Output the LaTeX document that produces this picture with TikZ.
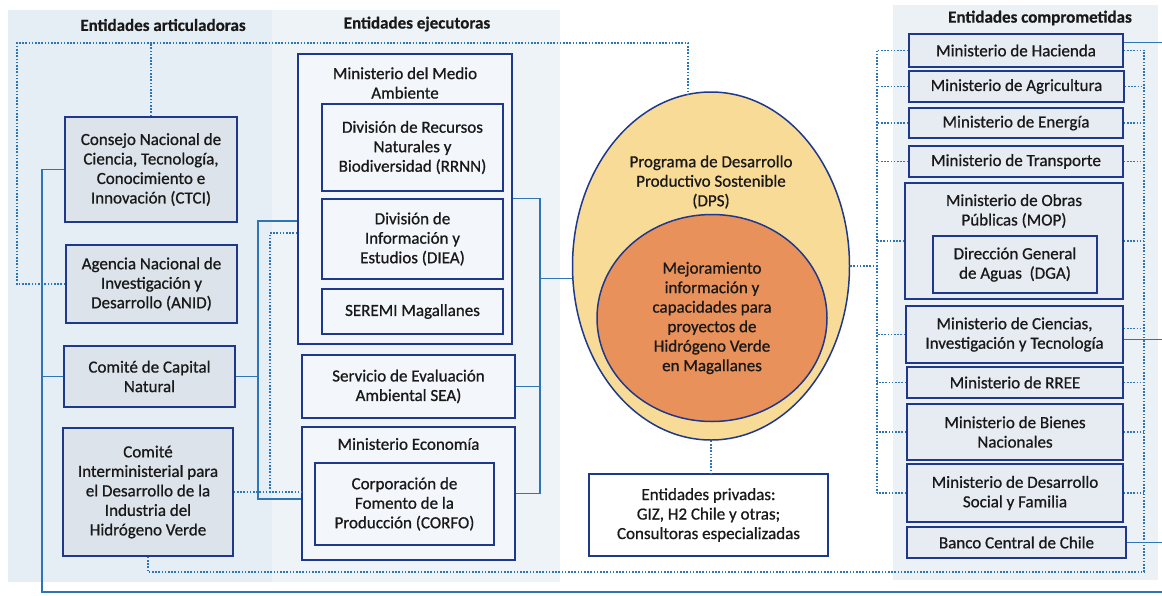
\documentclass[tikz,border=0pt]{standalone}
\usepackage{fontspec}
\setmainfont{Carlito}[FakeBold=0.8]
\newfontfamily\headfont{Carlito}[FakeBold=0.4]
\usetikzlibrary{shapes.geometric}
\definecolor{navy}{RGB}{30,56,140}
\definecolor{linkblue}{RGB}{46,117,182}
\definecolor{leftfill}{RGB}{221,227,235}
\definecolor{midfill}{RGB}{243,246,250}
\definecolor{rightfill}{RGB}{231,236,243}
\definecolor{panelleft}{RGB}{229,237,245}
\definecolor{panelmid}{RGB}{238,243,248}
\definecolor{panelright}{RGB}{236,241,246}
\definecolor{dpsfill}{RGB}{249,219,152}
\definecolor{mejorafill}{RGB}{233,145,90}

\begin{document}
\begin{tikzpicture}[x=1pt,y=-1pt,font=\fontsize{17}{19.5}\selectfont,
   box/.style={draw=navy,line width=1.6pt,align=center,inner sep=2pt,text=black!90},
   lbox/.style={box,fill=leftfill},
   mbox/.style={box,fill=midfill},
   rbox/.style={box,fill=rightfill},
   head/.style={font=\fontsize{17}{19.5}\headfont\bfseries,text=black!90},
   txt/.style={align=center,text=black!90},
   link/.style={draw=linkblue,line width=1.1pt},
   dotlink/.style={draw=linkblue,line width=1.2pt,dash pattern=on 1.6pt off 1.6pt}]
% Background panels
   \useasboundingbox (0,0) rectangle (1162,595);
   \fill [white] (0,0) rectangle (1162,595);
   \fill [panelleft]  (8,10) rectangle (272,582);
   \fill [panelmid]   (272,10) rectangle (560,582);
   \fill [panelright] (893,5) rectangle (1158,580);
% Column titles
   \node [head] (hart) at (163,25) {Entidades articuladoras};
   \node [head] (heje) at (417,24) {Entidades ejecutoras};
   \node [head] (hcom) at (1040,18) {Entidades comprometidas};
% Entidades articuladoras
   \node [lbox,minimum width=172pt,minimum height=105pt] (ctci) at (151,169.5)
        {Consejo Nacional de\\Ciencia, Tecnología,\\Conocimiento e\\Innovación (CTCI)};
   \node [lbox,minimum width=171pt,minimum height=78pt] (anid) at (151.5,284)
        {Agencia Nacional de\\Investigación y\\Desarrollo (ANID)};
   \node [lbox,minimum width=171pt,minimum height=61pt] (capnat) at (149.5,376.5)
        {Comité de Capital\\Natural};
   \node [lbox,minimum width=170pt,minimum height=128pt] (cihv) at (148,492)
        {Comité\\Interministerial para\\el Desarrollo de la\\Industria del\\Hidrógeno Verde};
% Entidades ejecutoras
   \node [mbox,minimum width=214pt,minimum height=290pt] (mma) at (405,199) {};
   \node [txt] (mmatitle) at (405,83) {Ministerio del Medio\\Ambiente};
   \node [mbox,minimum width=181pt,minimum height=87pt] (rrnn) at (412.5,147.5)
        {División de Recursos\\Naturales y\\Biodiversidad (RRNN)};
   \node [mbox,minimum width=181pt,minimum height=80pt] (diea) at (412.5,239)
        {División de\\Información y\\Estudios (DIEA)};
   \node [mbox,minimum width=181pt,minimum height=45pt] (seremi) at (412.5,311.5)
        {SEREMI Magallanes};
   \node [mbox,minimum width=213pt,minimum height=63pt] (sea) at (408.5,386.5)
        {Servicio de Evaluación\\Ambiental SEA)};
   \node [mbox,minimum width=213pt,minimum height=133pt] (mineco) at (408.5,493.5) {};
   \node [txt] (minecotitle) at (408.5,444) {Ministerio Economía};
   \node [mbox,minimum width=179pt,minimum height=82pt] (corfo) at (404.5,504)
        {Corporación de\\Fomento de la\\Producción (CORFO)};
% Programa
   \node [ellipse,draw=navy,line width=1.5pt,fill=dpsfill,inner sep=0pt,
        minimum width=277pt,minimum height=348pt] (dps) at (711,266) {};
   \node [txt] (dpstitle) at (711,182) {Programa de Desarrollo\\Productivo Sostenible\\(DPS)};
   \node [ellipse,draw=navy,line width=1.5pt,fill=mejorafill,inner sep=0pt,align=center,
        text=black!90,minimum width=230pt,minimum height=207pt] (mejora) at (712,318)
        {Mejoramiento\\información y\\capacidades para\\proyectos de\\Hidrógeno Verde\\en Magallanes};
   \node [box,fill=white,minimum width=239pt,minimum height=82pt] (privadas) at (708.5,515)
        {Entidades privadas:\\GIZ, H2 Chile y otras;\\Consultoras especializadas};
% Entidades comprometidas
   \node [rbox,minimum width=214pt,minimum height=33pt] (hacienda) at (1016,50.5) {Ministerio de Hacienda};
   \node [rbox,minimum width=215pt,minimum height=31pt] (agricultura) at (1016.5,86.5) {Ministerio de Agricultura};
   \node [rbox,minimum width=214pt,minimum height=30pt] (energia) at (1016,123) {Ministerio de Energía};
   \node [rbox,minimum width=214pt,minimum height=31pt] (transporte) at (1016,161.5) {Ministerio de Transporte};
   \node [rbox,minimum width=218pt,minimum height=116pt] (mop) at (1014,241) {};
   \node [txt] (moptitle) at (1014,211) {Ministerio de Obras\\Públicas (MOP)};
   \node [rbox,minimum width=164pt,minimum height=57pt] (dga) at (1015,264.5)
        {Dirección General\\de Aguas\ \ (DGA)};
   \node [rbox,minimum width=217pt,minimum height=57pt] (ciencias) at (1014.5,334.5)
        {Ministerio de Ciencias,\\Investigación y Tecnología};
   \node [rbox,minimum width=216pt,minimum height=31pt] (rree) at (1015,382.5) {Ministerio de RREE};
   \node [rbox,minimum width=216pt,minimum height=56pt] (bienes) at (1015,432)
        {Ministerio de Bienes\\Nacionales};
   \node [rbox,minimum width=216pt,minimum height=58pt] (desarrollo) at (1015,493)
        {Ministerio de Desarrollo\\Social y Familia};
   \node [rbox,minimum width=219pt,minimum height=31pt] (banco) at (1016.5,542.5) {Banco Central de Chile};
% Trunk points
   \coordinate (sw) at (42,592);
   \coordinate (se) at (1162,592);
   \coordinate (mlt) at (258,221);
   \coordinate (mlb) at (258,499);
   \coordinate (mdt) at (270,233);
   \coordinate (mr) at (540,0);
   \coordinate (tl) at (17,43);
   \coordinate (tr) at (688,43);
   \coordinate (rdt) at (1144,50);
   \coordinate (rdb) at (1144,572);
   \coordinate (ldt) at (877,50);
   \coordinate (re) at (1162,0);
% Solid links
   \draw [link] (ctci.west) -| (sw) -- (se);
   \draw [link] (capnat.west) -- (capnat.west -| sw);
   \draw [link] (mlt -| mma.west) -- (mlt) -- (mlb) -- (mlb -| mineco.west);
   \draw [link] (capnat.east) -- (capnat.east -| mlt);
   \draw [link] (mma.east |- diea.north) -- (diea.north -| mr) -- (mineco.east -| mr) -- (mineco.east);
   \draw [link] (sea.east) -- (sea.east -| mr);
   \draw [link] (dps.185) -- (dps.185 -| mr);
   \draw [link] ([yshift=8pt]hacienda.east) -- ([yshift=8pt]hacienda.east -| re);
   \draw [link] ([yshift=-5pt]ciencias.east) -- ([yshift=-5pt]ciencias.east -| re);
   \draw [link] (banco.east) -- (banco.east -| re);
% Dotted links
   \draw [dotlink] (anid.west) -| (tl) -- (tr) -- ([yshift=-3pt]tr |- dps.north);
   \draw [dotlink] (ctci.north) -- (ctci.north |- tl);
   \draw [dotlink] (mdt -| mma.west) -- (mdt) -- (mdt |- cihv.east);
   \draw [dotlink] (cihv.east) -- (cihv.east -| mineco.west);
   \draw [dotlink] (dps.south) -- (dps.south |- privadas.north);
   \draw [dotlink] (cihv.south) |- (rdb) -- (rdt);
   \draw [dotlink] (ldt |- hacienda.west) -- (ldt |- desarrollo.west);
   \draw [dotlink] (dps.east) -- (dps.east -| ldt);
   \foreach \n in {hacienda,agricultura,energia,transporte,mop,ciencias,rree,bienes,desarrollo}
        \draw [dotlink] (\n.west) -- (\n.west -| ldt);
   \foreach \n in {agricultura,energia,transporte,mop,rree,bienes,desarrollo}
        \draw [dotlink] (\n.east) -- (\n.east -| rdt);
   \draw [dotlink] (hacienda.east) -- (hacienda.east -| rdt);
   \draw [dotlink] ([yshift=6pt]ciencias.east) -- ([yshift=6pt]ciencias.east -| rdt);
\end{tikzpicture}
\end{document}
